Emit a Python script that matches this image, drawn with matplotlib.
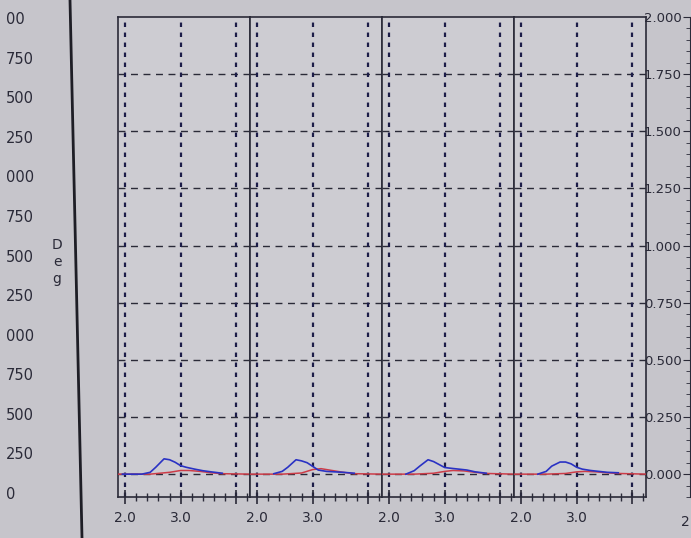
import numpy as np
import matplotlib
matplotlib.use("Agg")
import matplotlib.pyplot as plt
from matplotlib.lines import Line2D

# ---- data ----
# blue trace (same x samples in every panel)
blue_x = [1.95, 2.3, 2.45, 2.55, 2.7, 2.8, 2.9, 3.0, 3.1, 3.25, 3.4, 3.55, 3.75]
blue_p1 = [0.0, 0.0, 0.008, 0.03, 0.067, 0.063, 0.052, 0.037, 0.030, 0.022, 0.015, 0.010, 0.004]
blue_p2 = [np.nan, 0.002, 0.012, 0.03, 0.063, 0.058, 0.050, 0.034, 0.018, 0.012, 0.010, 0.008, 0.004]
blue_p3 = [np.nan, 0.0, 0.015, 0.035, 0.063, 0.055, 0.042, 0.029, 0.026, 0.022, 0.018, 0.010, 0.004]
blue_p4 = [np.nan, 0.0, 0.012, 0.035, 0.053, 0.053, 0.045, 0.030, 0.022, 0.016, 0.012, 0.008, 0.006]

# red trace
red_x = [1.87, 2.45, 2.8, 3.0, 3.15, 3.35, 3.55, 3.75, 4.25]
red_p1 = [0.0, 0.0, 0.008, 0.016, 0.016, 0.012, 0.006, 0.002, 0.0]
red_p2 = [0.0, 0.0, 0.005, 0.020, 0.024, 0.016, 0.008, 0.002, 0.0]
red_p3 = [0.0, 0.0, 0.004, 0.012, 0.016, 0.014, 0.008, 0.003, 0.0]
red_p4 = [0.0, 0.0, 0.003, 0.010, 0.012, 0.010, 0.006, 0.003, 0.0]

blue_all = [blue_p1, blue_p2, blue_p3, blue_p4]
red_all = [red_p1, red_p2, red_p3, red_p4]

x_major = [2.0, 3.0, 4.0]
x_major_labels = ["2.0", "3.0", ""]
y_grid = [0.0, 0.25, 0.5, 0.75, 1.0, 1.25, 1.5, 1.75]
right_ticks = [0.0, 0.25, 0.5, 0.75, 1.0, 1.25, 1.5, 1.75, 2.0]
# left scale: only the visible (cut off) part of each label shows in the photo
left_ticks = [0, 250, 500, 750, 1000, 1250, 1500, 1750, 2000, 2250, 2500, 2750, 3000]
left_labels = ["0", "250", "500", "750", "000", "250", "500", "750", "000", "250", "500", "750", "00"]

bg = "#c6c5cb"
panel_bg = "#cdccd2"
ink = "#2a2a38"
grid_col = "#1c1c48"

W, H = 691, 538
fig = plt.figure(figsize=(W / 100, H / 100), dpi=100, facecolor=bg)

def px(x, y):
    """pixel (from top-left) -> figure fraction"""
    return x / W, 1 - y / H

# four panels side by side
p_left, p_top, p_bot = 118, 17, 497
p_w = 132
for i in range(4):
    ax = fig.add_axes([(p_left + i * p_w) / W, (H - p_bot) / H, p_w / W, (p_bot - p_top) / H])
    ax.set_facecolor(panel_bg)
    ax.set_xlim(1.87, 4.25)
    ax.set_ylim(-0.1, 2.0)

    for yv in y_grid:
        ax.axhline(yv, color=ink, lw=1.0, ls=(0, (5, 4)), zorder=1)
    for xv in x_major:
        ax.axvline(xv, color=grid_col, lw=1.6, ls=(0, (2, 2.5)), zorder=1)

    ax.plot(red_x, red_all[i], color="#cc3c48", lw=1.1, zorder=3)
    ax.plot(blue_x, blue_all[i], color="#2a32c4", lw=1.2, zorder=4)

    ax.set_xticks(x_major)
    ax.set_xticklabels(x_major_labels)
    ax.set_xticks(np.arange(2.2, 4.25, 0.2), minor=True)
    ax.tick_params(axis="x", which="major", direction="inout", length=10, width=1.2,
                   colors=ink, labelsize=10, pad=5)
    ax.tick_params(axis="x", which="minor", direction="inout", length=6, width=1.0, colors=ink)
    ax.set_yticks([])
    for s in ax.spines.values():
        s.set_color(ink)
        s.set_linewidth(1.2)

# right hand scale
axr = fig.add_axes([690 / W, (H - p_bot) / H, 0.0001, (p_bot - p_top) / H])
axr.set_ylim(-0.1, 2.0)
axr.patch.set_visible(False)
for k in ["top", "bottom", "right"]:
    axr.spines[k].set_visible(False)
axr.spines["left"].set_color(ink)
axr.set_xticks([])
axr.set_yticks(right_ticks)
axr.set_yticklabels(["%.3f" % v for v in right_ticks])
axr.set_yticks(np.arange(-0.1, 2.0, 0.05), minor=True)
axr.tick_params(axis="y", which="major", direction="out", length=5, colors=ink, labelsize=9.5, pad=1)
axr.tick_params(axis="y", which="minor", direction="out", length=3, colors=ink)

# left scale, labels start right at the photo edge
axl = fig.add_axes([6 / W, (H - 493) / H, 0.0001, (493 - 18) / H])
axl.set_ylim(0, 3000)
axl.patch.set_visible(False)
for s in axl.spines.values():
    s.set_visible(False)
axl.set_xticks([])
axl.set_yticks(left_ticks)
axl.set_yticklabels(left_labels)
axl.tick_params(axis="y", length=0, colors=ink, labelsize=10.5, pad=0)
for lbl in axl.get_yticklabels():
    lbl.set_horizontalalignment("left")

fig.text(*px(57, 262), "D\ne\ng", ha="center", va="center", fontsize=10, color=ink, linespacing=1.3)

# dark frame line of the left window
fig.add_artist(Line2D([70 / W, 82 / W], [1, 0], color="#1e1e26", lw=2))

# partly hidden tick label at the lower right
fig.text(*px(681, 522), "2", ha="left", va="center", fontsize=10, color=ink)

fig.savefig("out.png", dpi=100, facecolor=bg)
